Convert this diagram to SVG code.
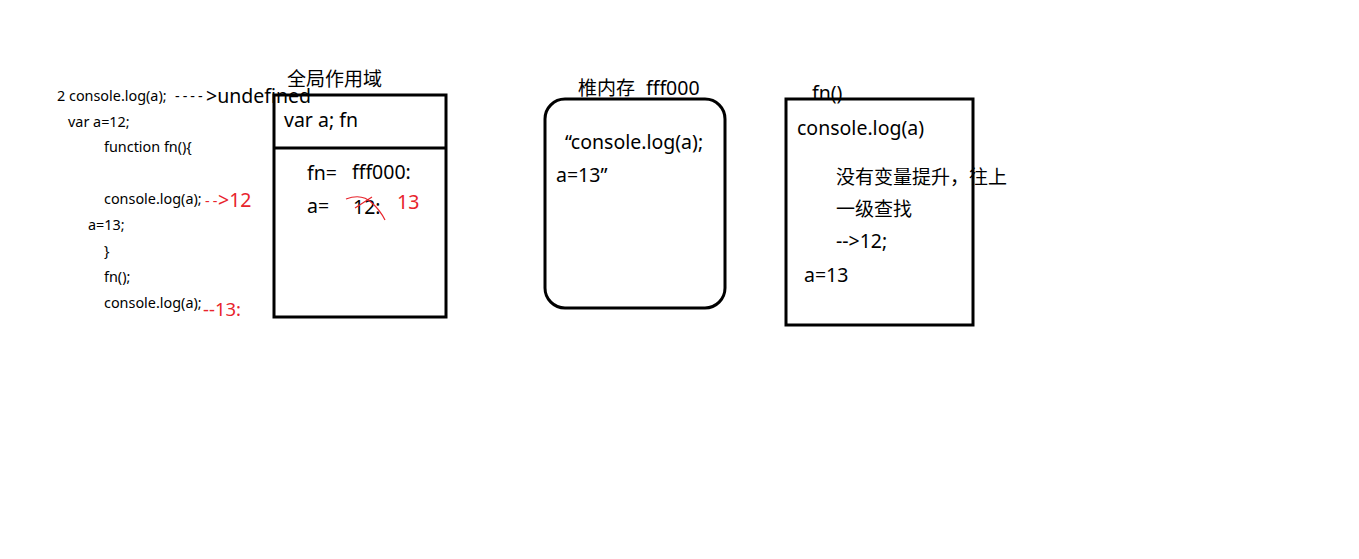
<svg xmlns="http://www.w3.org/2000/svg" width="1359" height="559" viewBox="0 0 1359 559">
<style>
text{font-family:"Noto Sans","Noto Sans CJK SC",sans-serif;fill:#000}
.s{font-size:14.4px}
.m{font-size:19.5px}
.c{font-family:"Noto Sans CJK SC",sans-serif;font-size:19px}
.r{fill:#e8242c}
.box{fill:none;stroke:#000;stroke-width:3}
</style>
<rect width="1359" height="559" fill="#fff"/>
<g id="code">
<text class="s" x="57" y="101">2 console.log(a);</text>
<text class="s" x="175" y="101" style="letter-spacing:3px">----</text>
<text class="m" x="206" y="103">&gt;undefined</text>
<text class="s" x="68" y="127">var a=12;</text>
<text class="s" x="104" y="152">function fn(){</text>
<text class="s" x="104" y="204">console.log(a);</text>
<text class="s r" x="205" y="206" style="letter-spacing:3px">--</text>
<text class="m r" x="218" y="207">&gt;12</text>
<text class="s" x="88" y="230">a=13;</text>
<text class="s" x="104" y="256">}</text>
<text class="s" x="104" y="282">fn();</text>
<text class="s" x="104" y="308">console.log(a);</text>
<text class="m r" x="203" y="316" style="font-size:18.5px">--13:</text>
</g>
<g id="global-scope">
<rect class="box" x="274" y="95" width="172" height="222"/>
<line class="box" x1="274" y1="148" x2="446" y2="148"/>
<text class="c" x="287" y="86">全局作用域</text>
<text class="m" x="284" y="127">var a; fn</text>
<text class="m" x="307" y="180">fn=</text>
<text class="m" x="352" y="179">fff000:</text>
<text class="m" x="307" y="213">a=</text>
<text class="m" x="353" y="214">12:</text>
<path d="M346 199 Q362 193 372 203 Q380 210 385 220 M355 208 L372 197" fill="none" stroke="#e8242c" stroke-width="1.2"/>
<text class="m r" x="397" y="209">13</text>
</g>
<g id="heap">
<rect class="box" x="545" y="99" width="180" height="209" rx="20"/>
<text class="c" x="578" y="95">椎内存</text>
<text class="m" x="646" y="95">fff000</text>
<text class="m" x="565" y="149">“console.log(a);</text>
<text class="m" x="556" y="182">a=13”</text>
</g>
<g id="fn-scope">
<text class="m" x="812" y="100">fn()</text>
<rect class="box" x="786" y="99" width="187" height="226"/>
<text class="m" x="797" y="135">console.log(a)</text>
<text class="c" x="836" y="184">没有变量提升，往上</text>
<text class="c" x="836" y="216">一级查找</text>
<text class="m" x="836" y="248">--&gt;12;</text>
<text class="m" x="804" y="282">a=13</text>
</g>
<g id="connectors"></g>
</svg>
